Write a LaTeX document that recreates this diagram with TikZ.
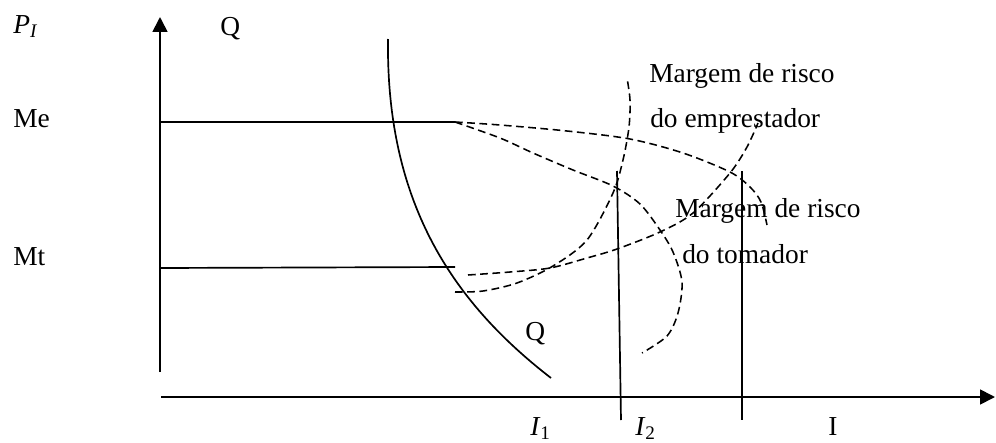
\documentclass[tikz,border=0pt]{standalone}
\usepackage{fontspec}
\setmainfont{Liberation Serif}
\usetikzlibrary{arrows.meta}
\tikzset{
  axisline/.style={line width=1.2pt,-{Triangle[length=10.5pt,width=10.5pt]}},
  curveline/.style={line width=1.2pt},
  marginline/.style={line width=1.1pt,dash pattern=on 5.5pt off 3.2pt},
  lbl/.style={font=\fontsize{19.5}{23}\selectfont,inner sep=0pt,anchor=base west}
}
\begin{document}
\begin{tikzpicture}[x=0.025cm,y=-0.025cm]
\useasboundingbox (0,0) rectangle (996,442);
\coordinate (ybot) at (160,372);
\coordinate (ytop) at (160,17);
\coordinate (xleft) at (161,397);
\coordinate (xright) at (995,397);
\draw[axisline] (ybot) -- (ytop);
\draw[axisline] (xleft) -- (xright);
\coordinate (meA) at (160,122);
\coordinate (meB) at (455,122);
\coordinate (mtA) at (160,268);
\coordinate (mtB) at (455,267);
\draw[curveline] (meA) -- (meB);
\draw[curveline] (mtA) -- (mtB);
\coordinate (qA) at (388,39);
\coordinate (qB) at (551,378);
\draw[curveline] (qA) .. controls (386,200) and (450,300) .. (qB);
\coordinate (i1top) at (617,171);
\coordinate (i1bot) at (621,420);
\coordinate (i2top) at (742,171);
\coordinate (i2bot) at (742,420);
\draw[curveline] (i1top) -- (i1bot);
\draw[curveline] (i2top) -- (i2bot);
\coordinate (mtC) at (468,275);
\coordinate (mtD) at (455,292);
\draw[marginline] plot[smooth] coordinates {(meB) (500,125) (567,131) (630,139) (683,153) (730,172) (750,187) (761,202) (767,225)};
\draw[marginline] plot[smooth] coordinates {(meB) (500,138) (533,153) (573,170) (613,186) (640,204) (660,230) (673,252) (682,282) (678,313) (667,336) (642,353)};
\draw[marginline] plot[smooth] coordinates {(mtC) (510,272) (550,268) (587,258) (617,249) (660,232) (693,213) (730,173) (747,147) (758,123)};
\draw[marginline] plot[smooth] coordinates {(mtD) (483,291) (517,283) (553,266) (587,240) (613,193) (623,160) (629,127) (630,100) (627,78)};
\node[lbl] (pI) at (13,33) {\textit{P}\textsubscript{\textit{I}}};
\node[lbl] (qtop) at (220,35) {Q};
\node[lbl] (me) at (13,127) {Me};
\node[lbl] (mt) at (13,265) {Mt};
\node[lbl] (qbot) at (525,340) {Q};
\node[lbl] (mar1) at (649,82) {Margem de risco};
\node[lbl] (emp) at (650,127) {do emprestador};
\node[lbl] (mar2) at (675,217) {Margem de risco};
\node[lbl] (tom) at (682,263) {do tomador};
\node[lbl] (iA) at (530,435) {\textit{I}\textsubscript{1}};
\node[lbl] (iB) at (635,435) {\textit{I}\textsubscript{2}};
\node[lbl] (iC) at (828,435) {I};
\end{tikzpicture}
\end{document}
